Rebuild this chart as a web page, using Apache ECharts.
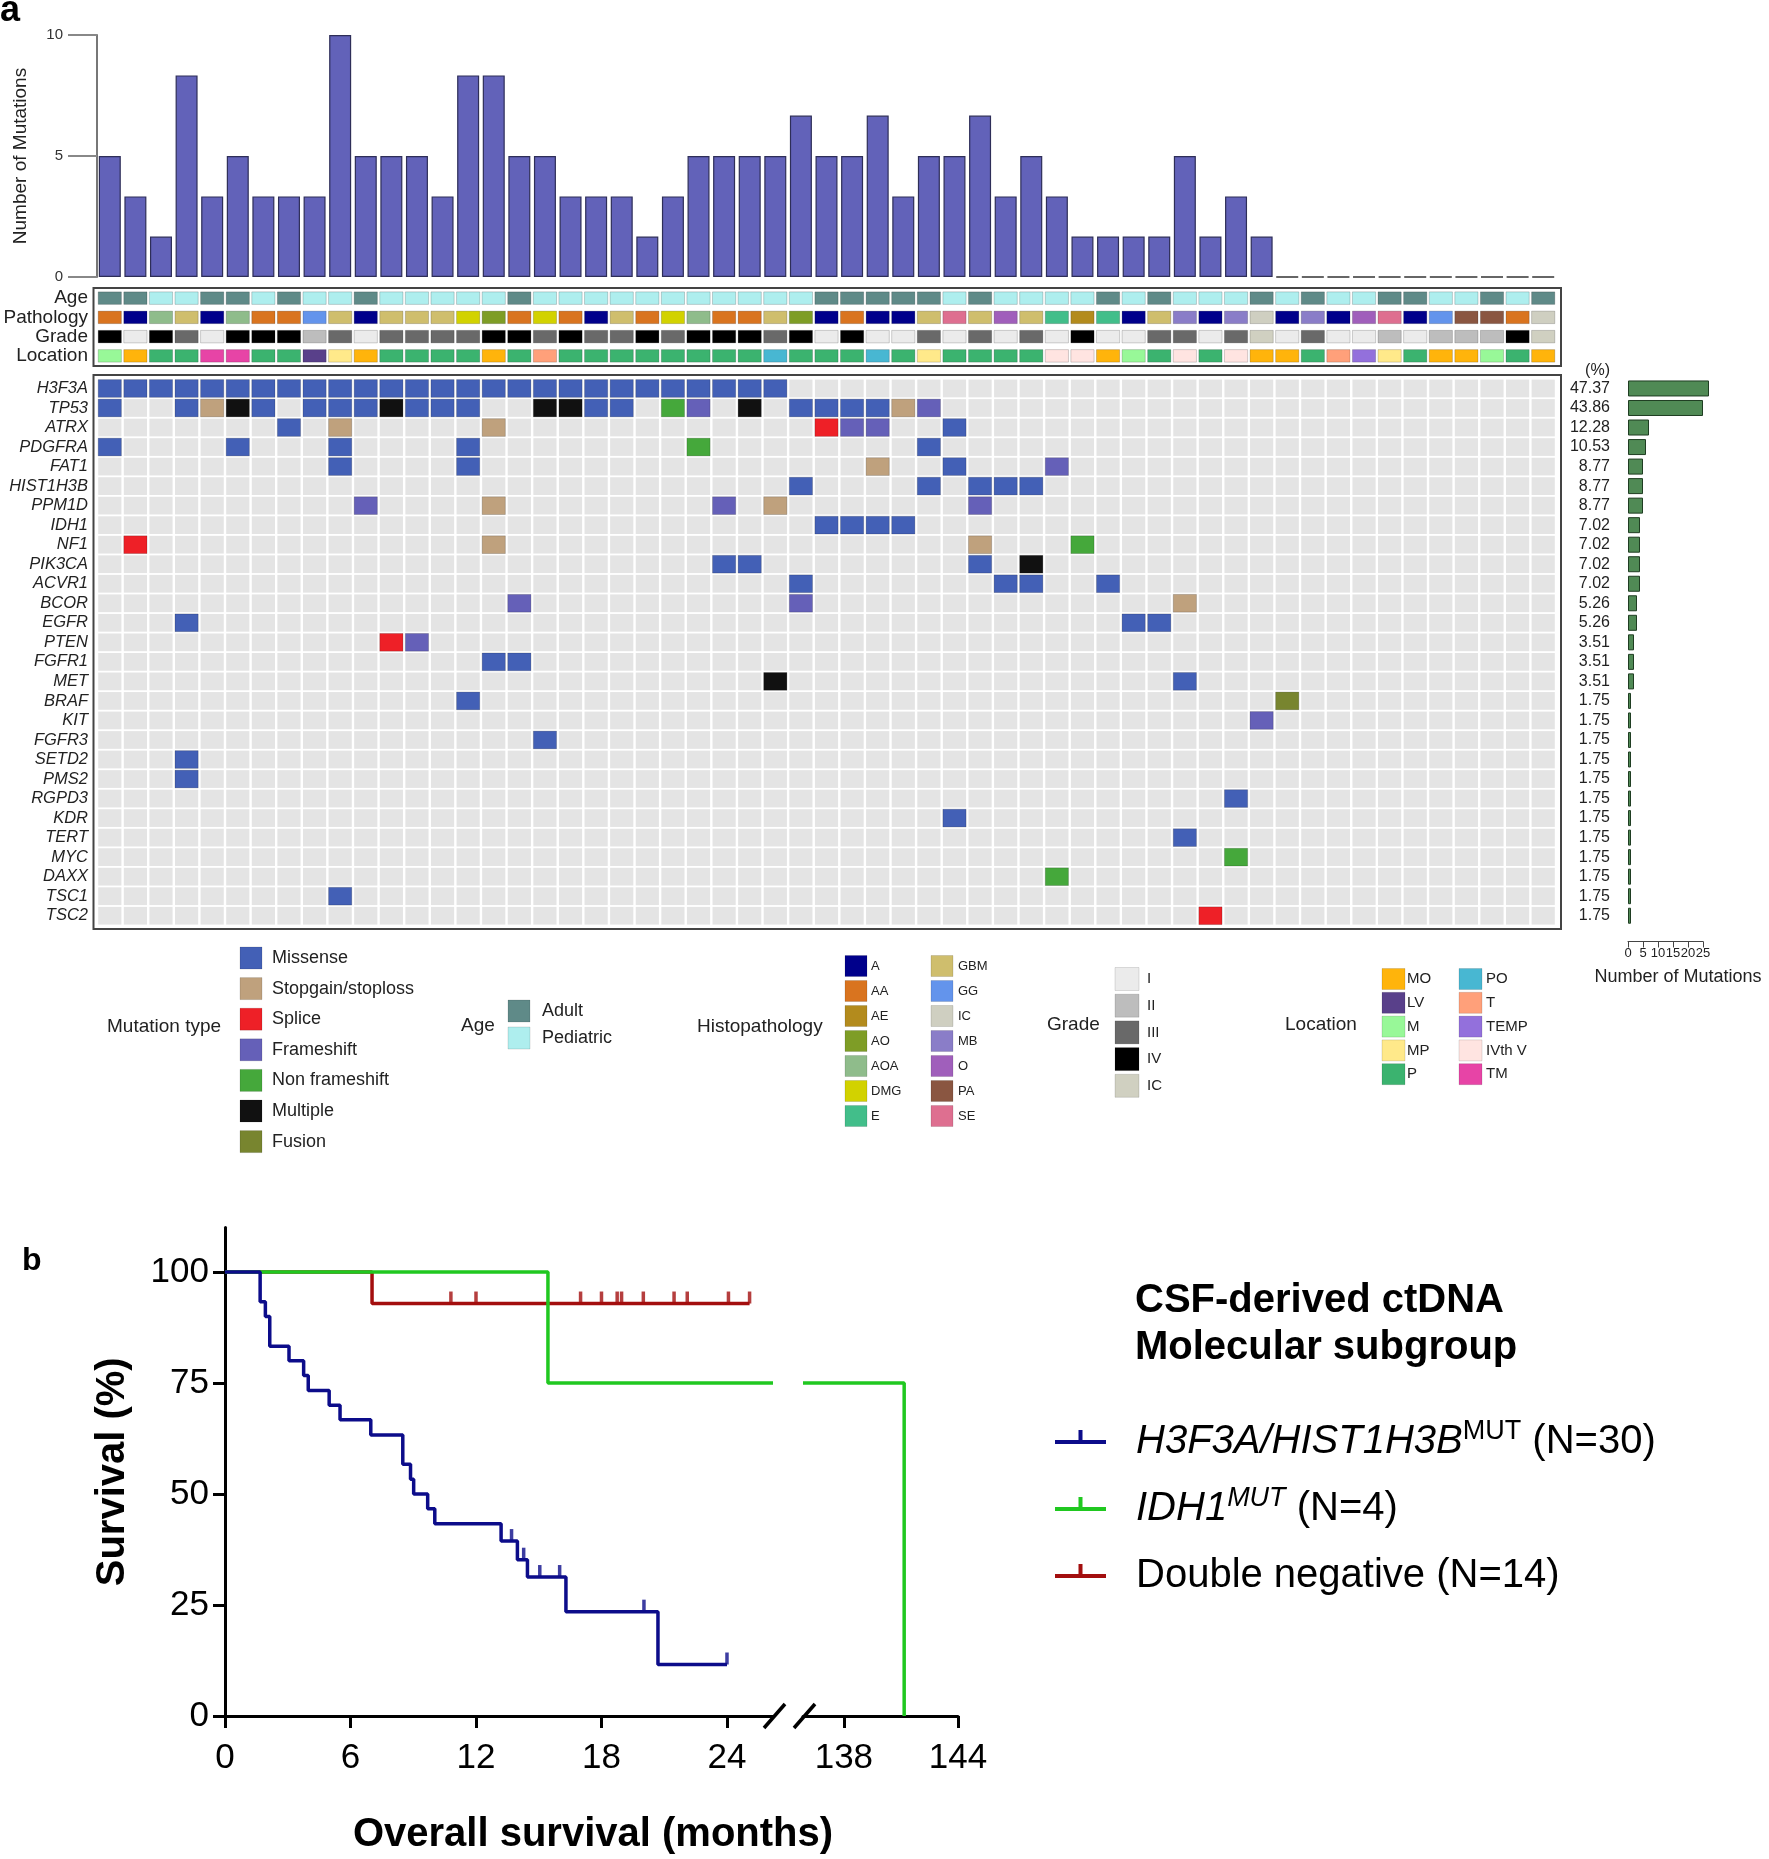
<!DOCTYPE html>
<html><head><meta charset="utf-8">
<script src="https://cdn.jsdelivr.net/npm/echarts@6.0.0/dist/echarts.min.js"></script>
<style>html,body{margin:0;padding:0;background:#fff}#c{width:1769px;height:1859px}</style>
</head><body><div id="c"></div>
<script>
const FONT = '"Liberation Sans", Arial, Helvetica, sans-serif';

// ---------------- DATA: panel a ----------------
const samples = Array.from({length: 57}, (_, i) => 'S' + (i + 1));
const mutationsPerSample = [5,3.33,1.67,8.33,3.33,5,3.33,3.33,3.33,10,5,5,5,3.33,8.33,8.33,5,5,3.33,3.33,3.33,1.67,3.33,5,5,5,5,6.67,5,5,6.67,3.33,5,5,6.67,3.33,5,3.33,1.67,1.67,1.67,1.67,5,1.67,3.33,1.67,0,0,0,0,0,0,0,0,0,0,0];
const genes = ['H3F3A','TP53','ATRX','PDGFRA','FAT1','HIST1H3B','PPM1D','IDH1','NF1','PIK3CA','ACVR1','BCOR','EGFR','PTEN','FGFR1','MET','BRAF','KIT','FGFR3','SETD2','PMS2','RGPD3','KDR','TERT','MYC','DAXX','TSC1','TSC2'];
const genePercent = ['47.37','43.86','12.28','10.53','8.77','8.77','8.77','7.02','7.02','7.02','7.02','5.26','5.26','3.51','3.51','3.51','1.75','1.75','1.75','1.75','1.75','1.75','1.75','1.75','1.75','1.75','1.75','1.75'];
const geneMutationCount = [27,25,7,6,5,5,5,4,4,4,4,3,3,2,2,2,1,1,1,1,1,1,1,1,1,1,1,1];
const mutationTypes = ['Missense','Stopgain/stoploss','Splice','Frameshift','Non frameshift','Multiple','Fusion'];
const mutationTypeCodes = ['Mi','St','Sp','Fr','NF','Mu','Fu'];
const mutationTypeColors = ['#4360b6','#bfa17d','#ee2027','#6560b8','#45a83b','#111111','#78852f'];
// [gene, [[sample number, mutation type code], ...]]
const mutationCalls = [
  ['H3F3A', [[1,'Mi'],[2,'Mi'],[3,'Mi'],[4,'Mi'],[5,'Mi'],[6,'Mi'],[7,'Mi'],[8,'Mi'],[9,'Mi'],[10,'Mi'],[11,'Mi'],[12,'Mi'],[13,'Mi'],[14,'Mi'],[15,'Mi'],[16,'Mi'],[17,'Mi'],[18,'Mi'],[19,'Mi'],[20,'Mi'],[21,'Mi'],[22,'Mi'],[23,'Mi'],[24,'Mi'],[25,'Mi'],[26,'Mi'],[27,'Mi']]],
  ['TP53', [[1,'Mi'],[4,'Mi'],[5,'St'],[6,'Mu'],[7,'Mi'],[9,'Mi'],[10,'Mi'],[11,'Mi'],[12,'Mu'],[13,'Mi'],[14,'Mi'],[15,'Mi'],[18,'Mu'],[19,'Mu'],[20,'Mi'],[21,'Mi'],[23,'NF'],[24,'Fr'],[26,'Mu'],[28,'Mi'],[29,'Mi'],[30,'Mi'],[31,'Mi'],[32,'St'],[33,'Fr']]],
  ['ATRX', [[8,'Mi'],[10,'St'],[16,'St'],[29,'Sp'],[30,'Fr'],[31,'Fr'],[34,'Mi']]],
  ['PDGFRA', [[1,'Mi'],[6,'Mi'],[10,'Mi'],[15,'Mi'],[24,'NF'],[33,'Mi']]],
  ['FAT1', [[10,'Mi'],[15,'Mi'],[31,'St'],[34,'Mi'],[38,'Fr']]],
  ['HIST1H3B', [[28,'Mi'],[33,'Mi'],[35,'Mi'],[36,'Mi'],[37,'Mi']]],
  ['PPM1D', [[11,'Fr'],[16,'St'],[25,'Fr'],[27,'St'],[35,'Fr']]],
  ['IDH1', [[29,'Mi'],[30,'Mi'],[31,'Mi'],[32,'Mi']]],
  ['NF1', [[2,'Sp'],[16,'St'],[35,'St'],[39,'NF']]],
  ['PIK3CA', [[25,'Mi'],[26,'Mi'],[35,'Mi'],[37,'Mu']]],
  ['ACVR1', [[28,'Mi'],[36,'Mi'],[37,'Mi'],[40,'Mi']]],
  ['BCOR', [[17,'Fr'],[28,'Fr'],[43,'St']]],
  ['EGFR', [[4,'Mi'],[41,'Mi'],[42,'Mi']]],
  ['PTEN', [[12,'Sp'],[13,'Fr']]],
  ['FGFR1', [[16,'Mi'],[17,'Mi']]],
  ['MET', [[27,'Mu'],[43,'Mi']]],
  ['BRAF', [[15,'Mi'],[47,'Fu']]],
  ['KIT', [[46,'Fr']]],
  ['FGFR3', [[18,'Mi']]],
  ['SETD2', [[4,'Mi']]],
  ['PMS2', [[4,'Mi']]],
  ['RGPD3', [[45,'Mi']]],
  ['KDR', [[34,'Mi']]],
  ['TERT', [[43,'Mi']]],
  ['MYC', [[45,'NF']]],
  ['DAXX', [[38,'NF']]],
  ['TSC1', [[10,'Mi']]],
  ['TSC2', [[44,'Sp']]]
];
const trackNames = ['Age','Pathology','Grade','Location'];
const ageGroups = ['Adult','Pediatric'];
const ageColors = ['#5f8a88','#aeeeee'];
const sampleAge = ['Adult','Adult','Pediatric','Pediatric','Adult','Adult','Pediatric','Adult','Pediatric','Pediatric','Adult','Pediatric','Pediatric','Pediatric','Pediatric','Pediatric','Adult','Pediatric','Pediatric','Pediatric','Pediatric','Pediatric','Pediatric','Pediatric','Pediatric','Pediatric','Pediatric','Pediatric','Adult','Adult','Adult','Adult','Adult','Pediatric','Adult','Pediatric','Pediatric','Pediatric','Pediatric','Adult','Pediatric','Adult','Pediatric','Pediatric','Pediatric','Adult','Pediatric','Adult','Pediatric','Pediatric','Adult','Adult','Pediatric','Pediatric','Adult','Pediatric','Adult'];
const histoTypes = ['A','AA','AE','AO','AOA','DMG','E','GBM','GG','IC','MB','O','PA','SE'];
const histoColors = ['#00008b','#d9741f','#b38b1d','#7e9d26','#8fbc8b','#d2d200','#42be8a','#cfbe6d','#6394ec','#cfcfc1','#8a7dc8','#a05fbb','#8a5641','#de6f90'];
const samplePathology = ['AA','A','AOA','GBM','A','AOA','AA','AA','GG','GBM','A','GBM','GBM','GBM','DMG','AO','AA','DMG','AA','A','GBM','AA','DMG','AOA','AA','AA','GBM','AO','A','AA','A','A','GBM','SE','GBM','O','GBM','E','AE','E','A','GBM','MB','A','MB','IC','A','MB','A','O','SE','A','GG','PA','PA','AA','IC'];
const gradeTypes = ['I','II','III','IV','IC'];
const gradeColors = ['#ebebeb','#bdbdbd','#696969','#000000','#d0d0c1'];
const sampleGrade = ['IV','I','IV','III','I','IV','IV','IV','II','III','I','III','III','III','III','IV','IV','III','IV','III','III','IV','III','IV','IV','IV','III','IV','I','IV','I','I','III','I','III','I','III','I','IV','I','I','III','III','I','III','IC','I','III','I','I','II','I','II','II','II','IV','IC'];
const locationTypes = ['MO','LV','M','MP','P','PO','T','TEMP','IVth V','TM'];
const locationColors = ['#ffb40b','#59408a','#98f898','#ffe98a','#3bb36f','#48b7d2','#ffa07a','#9370dc','#ffe4e1','#e744a6'];
const sampleLocation = ['M','MO','P','P','TM','TM','P','P','LV','MP','MO','P','P','P','P','MO','P','T','P','P','P','P','P','P','P','P','PO','P','P','P','PO','P','MP','P','P','P','P','IVth V','IVth V','MO','M','P','IVth V','P','IVth V','MO','MO','P','T','TEMP','MP','P','MO','MO','M','P','MO'];

// ---------------- DATA: panel b (Kaplan-Meier) ----------------
const kmH3Time = [0,1.68,1.93,2.14,3.06,3.76,3.98,4.98,5.5,6.97,8.5,8.87,9.02,9.69,10.03,13.2,13.98,14.46,16.3,20.7,24.0];
const kmH3Surv = [100,93.3,90,83.3,80,76.7,73.3,70,66.7,63.3,56.7,53.3,50,46.7,43.3,39.4,35.2,31.3,23.5,11.6,11.6];
const kmH3CensorTime = [13.7,14.28,15.05,16.0,20.03,24.0];
const kmH3CensorSurv = [39.4,35.2,31.3,31.3,23.5,11.6];
const kmIdhTime = [0,15.44,26.2];
const kmIdhSurv = [100,75,75];
const kmIdhLateTime = [135.85,141.17];
const kmIdhLateSurv = [75,0];
const kmDnTime = [0,7.03,25.08];
const kmDnSurv = [100,92.9,92.9];
const kmDnCensorTime = [10.8,12.0,17.0,18.0,18.75,18.96,20.0,21.47,22.1,24.07,25.08];
const kmDnCensorSurv = [92.9,92.9,92.9,92.9,92.9,92.9,92.9,92.9,92.9,92.9,92.9];
const kmEarlyTicks = [0,6,12,18,24];
const kmLateTicks = [138,144];
const kmSurvTicks = [0,25,50,75,100];

// ---------------- build ----------------
const zip = (a, b) => a.map((v, i) => [v, b[i]]);
const colorOf = (types, colors, t) => colors[types.indexOf(t)];

const mutLookup = {};
mutationCalls.forEach(([g, list]) => list.forEach(([s, t]) => { mutLookup[g + '|' + s] = t; }));
const oncoData = [];
genes.forEach((g, gi) => samples.forEach((s, si) => {
  const t = mutLookup[g + '|' + (si + 1)];
  oncoData.push({value: [si, gi, t ? 1 : 0], itemStyle: {color: t ? mutationTypeColors[mutationTypeCodes.indexOf(t)] : '#e4e4e4'}});
}));
const trackData = [];
samples.forEach((s, si) => {
  trackData.push({value: [si, 0], itemStyle: {color: colorOf(ageGroups, ageColors, sampleAge[si])}});
  trackData.push({value: [si, 1], itemStyle: {color: colorOf(histoTypes, histoColors, samplePathology[si])}});
  trackData.push({value: [si, 2], itemStyle: {color: colorOf(gradeTypes, gradeColors, sampleGrade[si])}});
  trackData.push({value: [si, 3], itemStyle: {color: colorOf(locationTypes, locationColors, sampleLocation[si])}});
});

function cellRender(gapX, fixedH, gapY) {
  return function (params, api) {
    const c = api.coord([api.value(0), api.value(1)]);
    const sz = api.size([1, 1]);
    const w = sz[0] - gapX;
    const h = fixedH || (sz[1] - gapY);
    const marked = fixedH ? true : api.value(2) === 1;
    return {type: 'rect', shape: {x: c[0] - w / 2, y: c[1] - h / 2, width: w, height: h},
      style: {fill: api.visual('color'), stroke: marked ? 'rgba(0,0,0,0.18)' : null, lineWidth: 1}};
  };
}

const graphics = [];
function addText(x, y, text, size, extra) {
  graphics.push({type: 'text', x: x, y: y, z: 10,
    style: Object.assign({text: text, fontSize: size, fontFamily: FONT, fill: '#222', align: 'left', verticalAlign: 'middle'}, extra || {})});
}
function addSwatch(x, cy, w, h, color) {
  graphics.push({type: 'rect', z: 10, shape: {x: x, y: cy - h / 2, width: w, height: h}, style: {fill: color, stroke: 'rgba(0,0,0,0.12)', lineWidth: 1}});
}
// panel labels
addText(0, 11, 'a', 36, {fontWeight: 'bold', fill: '#000'});
addText(22, 1261, 'b', 32, {fontWeight: 'bold', fill: '#000'});
// boxes around annotation tracks and oncoprint
graphics.push({type: 'rect', z: 1, shape: {x: 93.5, y: 288, width: 1467.5, height: 78}, style: {fill: null, stroke: '#444', lineWidth: 2}});
graphics.push({type: 'rect', z: 1, shape: {x: 93.5, y: 375, width: 1467.5, height: 554}, style: {fill: null, stroke: '#444', lineWidth: 2}});
// legends of panel a
addText(107, 1027, 'Mutation type', 19);
mutationTypes.forEach((m, i) => { const cy = 958 + i * 30.6; addSwatch(240, cy, 22, 22, mutationTypeColors[i]); addText(272, cy, m, 18); });
addText(461, 1026, 'Age', 19);
ageGroups.forEach((a, i) => { const cy = 1011 + i * 27; addSwatch(508, cy, 22, 22, ageColors[i]); addText(542, cy, a, 18); });
addText(697, 1027, 'Histopathology', 19);
histoTypes.forEach((h, i) => {
  const col = i < 7 ? 0 : 1, row = i % 7, cy = 966 + row * 25;
  addSwatch(col ? 931 : 845, cy, 22, 21, histoColors[i]); addText(col ? 958 : 871, cy, h, 13);
});
addText(1047, 1025, 'Grade', 19);
gradeTypes.forEach((g, i) => { const cy = 979 + i * 26.7; addSwatch(1115, cy, 24, 23, gradeColors[i]); addText(1147, cy, g, 15); });
addText(1285, 1025, 'Location', 19);
locationTypes.forEach((l, i) => {
  const col = i < 5 ? 0 : 1, row = i % 5, cy = 979 + row * 23.8;
  addSwatch(col ? 1459 : 1382, cy, 23, 21, locationColors[i]); addText(col ? 1486 : 1407, cy, l, 15);
});
// axis break marks
graphics.push({type: 'line', z: 10, shape: {x1: 764, y1: 1728, x2: 785, y2: 1704}, style: {stroke: '#000', lineWidth: 3.5}});
graphics.push({type: 'line', z: 10, shape: {x1: 794, y1: 1728, x2: 815, y2: 1704}, style: {stroke: '#000', lineWidth: 3.5}});

const hiddenCat = (gi) => ({type: 'category', gridIndex: gi, data: samples, show: false});
const BLUE = '#0c0c8a', GREEN = '#20c820', RED = '#a30e0e';
const kmAxisLine = {show: true, onZero: false, lineStyle: {color: '#000', width: 3}};

const option = {
  animation: false,
  backgroundColor: '#fff',
  textStyle: {fontFamily: FONT},
  title: [
    {text: 'CSF-derived ctDNA\nMolecular subgroup', left: 1130, top: 1272,
     textStyle: {fontFamily: FONT, fontSize: 40, fontWeight: 'bold', color: '#000', lineHeight: 47}},
    {text: 'Overall survival (months)', left: 588, top: 1810, textAlign: 'center',
     textStyle: {fontFamily: FONT, fontSize: 40, fontWeight: 'bold', color: '#000'}}
  ],
  grid: [
    {left: 97, top: 35, width: 1459, height: 242},
    {left: 97, top: 288.5, width: 1459, height: 77},
    {left: 97, top: 378.7, width: 1459, height: 546.8},
    {left: 1628, top: 378.7, width: 75, height: 546.8},
    {left: 225, top: 1227.6, width: 548, height: 488.4},
    {left: 803, top: 1227.6, width: 155, height: 488.4}
  ],
  xAxis: [
    hiddenCat(0), hiddenCat(1), hiddenCat(2),
    {type: 'value', gridIndex: 3, min: 0, max: 25, interval: 5, position: 'bottom', offset: 16,
     axisLine: {show: true, lineStyle: {color: '#444', width: 1}},
     axisTick: {show: true, length: 6, lineStyle: {color: '#444'}},
     axisLabel: {fontSize: 13, color: '#222', margin: 5},
     splitLine: {show: false},
     name: 'Number of Mutations', nameLocation: 'middle', nameGap: 27,
     nameTextStyle: {fontSize: 18, color: '#222', padding: [0, 0, 0, 25]}},
    {type: 'value', gridIndex: 4, min: 0, max: 26.2, interval: 6,
     axisLine: kmAxisLine,
     axisTick: {show: true, length: 12, lineStyle: {color: '#000', width: 3}, customValues: kmEarlyTicks},
     axisLabel: {fontSize: 35, color: '#000', margin: 25, customValues: kmEarlyTicks},
     splitLine: {show: false}},
    {type: 'value', gridIndex: 5, min: 135.85, max: 144,
     axisLine: kmAxisLine,
     axisTick: {show: true, length: 12, lineStyle: {color: '#000', width: 3}, customValues: kmLateTicks},
     axisLabel: {fontSize: 35, color: '#000', margin: 25, customValues: kmLateTicks},
     splitLine: {show: false}}
  ],
  yAxis: [
    {type: 'value', gridIndex: 0, min: 0, max: 10, interval: 5,
     axisLine: {show: true, lineStyle: {color: '#777', width: 2}},
     axisTick: {show: true, length: 29, lineStyle: {color: '#888', width: 2}},
     axisLabel: {fontSize: 15, color: '#333', margin: 34},
     splitLine: {show: false},
     name: 'Number of Mutations', nameLocation: 'middle', nameGap: 67,
     nameTextStyle: {fontSize: 19, color: '#222'}},
    {type: 'category', gridIndex: 1, data: trackNames, inverse: true,
     axisLine: {show: false}, axisTick: {show: false},
     axisLabel: {interval: 0, fontSize: 19, color: '#222', margin: 9}},
    {type: 'category', gridIndex: 2, data: genes, inverse: true,
     axisLine: {show: false}, axisTick: {show: false},
     axisLabel: {interval: 0, fontSize: 16.5, color: '#222', fontStyle: 'italic', margin: 9}},
    {type: 'category', gridIndex: 3, data: genes, inverse: true,
     axisLine: {show: false}, axisTick: {show: false},
     axisLabel: {interval: 0, fontSize: 16, color: '#222', margin: 18, formatter: (v, i) => genePercent[i]},
     name: '(%)', nameLocation: 'start', nameGap: 0,
     nameTextStyle: {fontSize: 16, color: '#222', align: 'right', padding: [0, 18, 0, 0]}},
    {type: 'value', gridIndex: 4, min: 0, max: 110, interval: 25,
     axisLine: kmAxisLine,
     axisTick: {show: true, length: 12, lineStyle: {color: '#000', width: 3}, customValues: kmSurvTicks},
     axisLabel: {fontSize: 35, color: '#000', margin: 16, customValues: kmSurvTicks},
     splitLine: {show: false},
     name: 'Survival (%)', nameLocation: 'middle', nameGap: 92,
     nameTextStyle: {fontSize: 40, fontWeight: 'bold', color: '#000'}},
    {type: 'value', gridIndex: 5, min: 0, max: 110, show: false}
  ],
  legend: {
    data: ['H3F3A/HIST1H3B', 'IDH1', 'Double negative'],
    orient: 'vertical', left: 1050, top: 1413, itemGap: 19,
    itemWidth: 76, itemHeight: 28, selectedMode: false,
    icon: 'path://M0,0L0.1,0L0,0.1Z M0,12L51,12L51,16L0,16Z M23.5,2L27.5,2L27.5,12L23.5,12Z M76,28L75.9,28L76,27.9Z',
    formatter: function (name) {
      return {
        'H3F3A/HIST1H3B': '{gi|H3F3A/HIST1H3B}{sup|MUT}{t| (N=30)}',
        'IDH1': '{gi|IDH1}{supi|MUT}{t| (N=4)}',
        'Double negative': '{t|Double negative (N=14)}'
      }[name];
    },
    textStyle: {fontFamily: FONT, fontSize: 40, color: '#000', lineHeight: 48,
      rich: {
        gi: {fontFamily: FONT, fontSize: 40, fontStyle: 'italic', color: '#000', lineHeight: 48},
        t: {fontFamily: FONT, fontSize: 40, color: '#000', lineHeight: 48},
        sup: {fontFamily: FONT, fontSize: 27, color: '#000', lineHeight: 48, verticalAlign: 'top'},
        supi: {fontFamily: FONT, fontSize: 27, fontStyle: 'italic', color: '#000', lineHeight: 48, verticalAlign: 'top'}
      }}
  },
  series: [
    {type: 'bar', xAxisIndex: 0, yAxisIndex: 0, barWidth: 22,
     data: mutationsPerSample.map(v => v === 0 ? {value: 0, itemStyle: {borderColor: '#666', borderWidth: 2}} : v),
     itemStyle: {color: '#6262b9', borderColor: '#2e2e58', borderWidth: 1.2}},
    {type: 'custom', xAxisIndex: 1, yAxisIndex: 1, data: trackData, renderItem: cellRender(2.4, 12.5, 0)},
    {type: 'custom', xAxisIndex: 2, yAxisIndex: 2, data: oncoData, renderItem: cellRender(2.4, 0, 1.8)},
    {type: 'bar', xAxisIndex: 3, yAxisIndex: 3, barWidth: 16, clip: false, data: geneMutationCount,
     itemStyle: {color: '#508a55', borderColor: '#1f3d22', borderWidth: 1}},
    {name: 'Double negative', type: 'line', xAxisIndex: 4, yAxisIndex: 4, step: 'end', symbol: 'none',
     data: zip(kmDnTime, kmDnSurv), lineStyle: {color: RED, width: 3.5}, itemStyle: {color: RED}, z: 3},
    {name: 'IDH1', type: 'line', xAxisIndex: 4, yAxisIndex: 4, step: 'end', symbol: 'none',
     data: zip(kmIdhTime, kmIdhSurv), lineStyle: {color: GREEN, width: 3.5}, itemStyle: {color: GREEN}, z: 4},
    {name: 'IDH1', type: 'line', xAxisIndex: 5, yAxisIndex: 5, step: 'end', symbol: 'none',
     data: zip(kmIdhLateTime, kmIdhLateSurv), lineStyle: {color: GREEN, width: 3.5}, itemStyle: {color: GREEN}, z: 4},
    {name: 'H3F3A/HIST1H3B', type: 'line', xAxisIndex: 4, yAxisIndex: 4, step: 'end', symbol: 'none',
     data: zip(kmH3Time, kmH3Surv), lineStyle: {color: BLUE, width: 3.5}, itemStyle: {color: BLUE}, z: 5},
    {name: 'Double negative censored', type: 'scatter', xAxisIndex: 4, yAxisIndex: 4,
     symbol: 'rect', symbolSize: [3.5, 12], symbolOffset: [0, -6],
     data: zip(kmDnCensorTime, kmDnCensorSurv), itemStyle: {color: RED}, z: 6},
    {name: 'H3F3A/HIST1H3B censored', type: 'scatter', xAxisIndex: 4, yAxisIndex: 4,
     symbol: 'rect', symbolSize: [3.5, 12], symbolOffset: [0, -6],
     data: zip(kmH3CensorTime, kmH3CensorSurv), itemStyle: {color: BLUE}, z: 6}
  ],
  graphic: graphics
};

const chart = echarts.init(document.getElementById('c'), null, {width: 1769, height: 1859});
chart.setOption(option);
</script>
</body></html>
